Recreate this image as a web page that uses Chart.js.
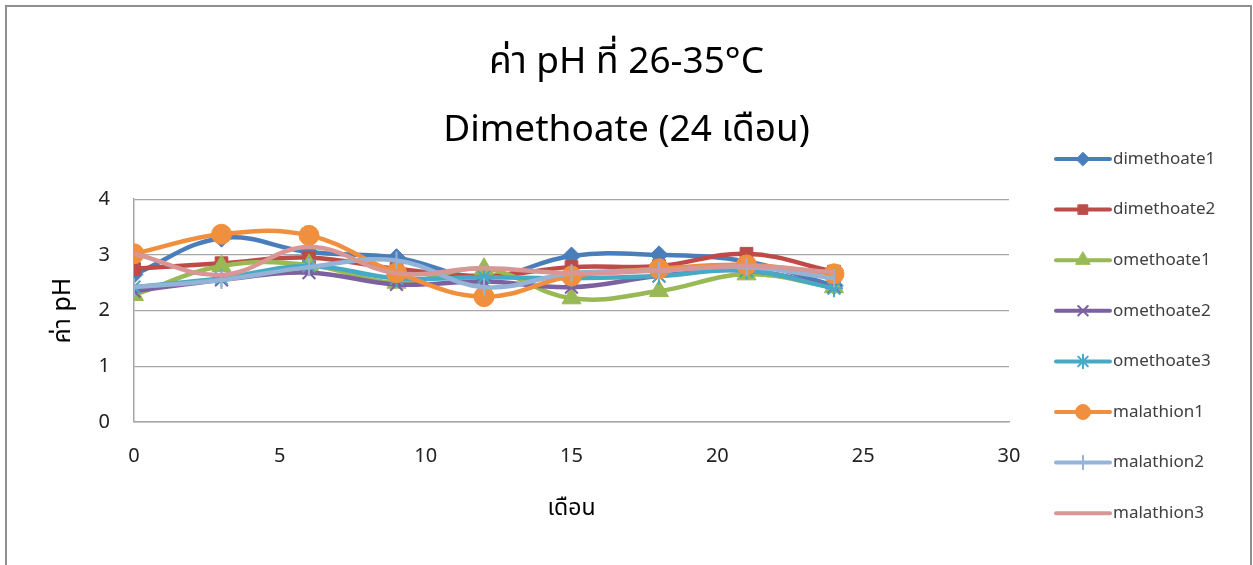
<!DOCTYPE html>
<html>
<head>
<meta charset="utf-8">
<script src="https://cdn.jsdelivr.net/npm/chart.js@4/dist/chart.umd.min.js"></script>
<style>
  body { margin: 0; background: #fff; }
  #wrap { position: absolute; left: 0; top: 0; width: 1253px; height: 565px; }
  #frame { position: absolute; left: 5px; top: 5px; width: 1243px; height: 600px;
           border: 2px solid #8f8f8f; pointer-events: none; }
</style>
</head>
<body>
<div id="wrap"><canvas id="phChart" width="1253" height="565"></canvas></div>
<div id="frame"></div>
<script>
const months = [0, 3, 6, 9, 12, 15, 18, 21, 24];
const seriesNames = ['dimethoate1', 'dimethoate2', 'omethoate1', 'omethoate2', 'omethoate3', 'malathion1', 'malathion2', 'malathion3'];
const dimethoate1 = [2.65, 3.3, 3.05, 2.95, 2.6, 2.98, 3.0, 2.88, 2.45];
const dimethoate2 = [2.75, 2.85, 2.95, 2.75, 2.62, 2.78, 2.8, 3.02, 2.7];
const omethoate1 = [2.28, 2.8, 2.82, 2.5, 2.75, 2.22, 2.35, 2.65, 2.42];
const omethoate2 = [2.35, 2.55, 2.68, 2.47, 2.52, 2.42, 2.62, 2.72, 2.42];
const omethoate3 = [2.42, 2.58, 2.8, 2.58, 2.6, 2.58, 2.62, 2.72, 2.4];
const malathion1 = [3.02, 3.37, 3.35, 2.68, 2.25, 2.62, 2.75, 2.82, 2.66];
const malathion2 = [2.42, 2.55, 2.78, 2.9, 2.42, 2.67, 2.72, 2.78, 2.58];
const malathion3 = [3.02, 2.64, 3.14, 2.67, 2.76, 2.67, 2.72, 2.8, 2.69];
const xTicks = [0, 5, 10, 15, 20, 25, 30];
const yTicks = [0, 1, 2, 3, 4];

const allValues = [dimethoate1, dimethoate2, omethoate1, omethoate2, omethoate3, malathion1, malathion2, malathion3];
const colors = ['#4a7ebb', '#be4b48', '#98b954', '#7d60a0', '#46aac5', '#f0903f', '#95b3d7', '#d99694'];
const styles = [
  { pointStyle: 'rectRot', radius: 9, bw: 1 },
  { pointStyle: 'rect', radius: 9, bw: 1 },
  { pointStyle: 'triangle', radius: 11, bw: 1 },
  { pointStyle: 'crossRot', radius: 9, bw: 2 },
  { pointStyle: 'star', radius: 9, bw: 2 },
  { pointStyle: 'circle', radius: 10, bw: 1 },
  { pointStyle: 'line', radius: 9, bw: 2, rotation: 90 },
  { pointStyle: false, radius: 0, bw: 0 }
];
const FONT = '"Noto Sans", "Noto Sans Thai", Tahoma, sans-serif';

const datasets = seriesNames.map((name, i) => ({
  label: name,
  data: months.map((m, j) => ({ x: m, y: allValues[i][j] })),
  borderColor: colors[i],
  backgroundColor: colors[i],
  borderWidth: 4.5,
  tension: 0.4,
  pointStyle: styles[i].pointStyle,
  pointRadius: styles[i].radius,
  pointRotation: styles[i].rotation || 0,
  pointBorderWidth: styles[i].bw,
  order: seriesNames.length - i
}));

// legend drawn like Excel: line with marker in the middle
const sideLegend = {
  id: 'sideLegend',
  afterDraw(chart) {
    const ctx = chart.ctx;
    ctx.save();
    seriesNames.forEach((name, i) => {
      const y = 159 + i * 50.6;
      ctx.strokeStyle = colors[i];
      ctx.fillStyle = colors[i];
      ctx.lineWidth = 4;
      ctx.lineCap = 'round';
      ctx.beginPath();
      ctx.moveTo(1056, y);
      ctx.lineTo(1110, y);
      ctx.stroke();
      if (styles[i].pointStyle) {
        ctx.lineWidth = styles[i].bw;
        Chart.helpers.drawPoint(ctx, {
          pointStyle: styles[i].pointStyle,
          radius: styles[i].radius * 0.75,
          rotation: styles[i].rotation || 0,
          borderWidth: styles[i].bw
        }, 1083, y);
      }
      ctx.fillStyle = '#404040';
      ctx.font = '17px ' + FONT;
      ctx.textBaseline = 'middle';
      ctx.fillText(name, 1113, y);
    });
    ctx.restore();
  }
};

new Chart(document.getElementById('phChart'), {
  type: 'line',
  data: { datasets: datasets },
  options: {
    responsive: false,
    animation: false,
    layout: { padding: 0 },
    plugins: {
      legend: { display: false },
      tooltip: { enabled: false },
      title: {
        display: true,
        text: ['ค่า pH ที่ 26-35°C', 'Dimethoate (24 เดือน)'],
        color: '#000',
        font: { family: FONT, size: 37, weight: 'normal', lineHeight: 1.84 },
        padding: { top: 28, bottom: 35 }
      }
    },
    scales: {
      x: {
        type: 'linear',
        min: 0,
        max: 30,
        afterBuildTicks: s => { s.ticks = xTicks.map(v => ({ value: v })); },
        afterFit: s => { s.height = 143; },
        grid: { display: false, drawTicks: false },
        border: { display: true, color: '#a6a6a6', width: 1.5 },
        ticks: { color: '#222', padding: 22, font: { family: FONT, size: 20 } },
        title: { display: true, text: 'เดือน', color: '#000',
                 font: { family: FONT, size: 23 }, padding: { top: 4, bottom: 43 } }
      },
      y: {
        min: 0,
        max: 4,
        afterBuildTicks: s => { s.ticks = yTicks.map(v => ({ value: v })); },
        afterFit: s => { s.width = 134; },
        grid: { color: '#a6a6a6', lineWidth: 1.2, drawTicks: false },
        border: { display: true, color: '#a6a6a6', width: 1.5 },
        ticks: { color: '#222', padding: 24, font: { family: FONT, size: 20 } },
        title: { display: true, text: 'ค่า pH', color: '#000',
                 font: { family: FONT, size: 25 }, padding: { top: 48, bottom: 4 } }
      },
      // empty right axis reserves the legend column so the title stays centred on the whole chart
      legendSpace: {
        position: 'right',
        min: 0,
        max: 1,
        afterFit: s => { s.width = 244; },
        grid: { display: false, drawTicks: false },
        border: { display: false },
        ticks: { display: false }
      }
    }
  },
  plugins: [sideLegend]
});
</script>
</body>
</html>
